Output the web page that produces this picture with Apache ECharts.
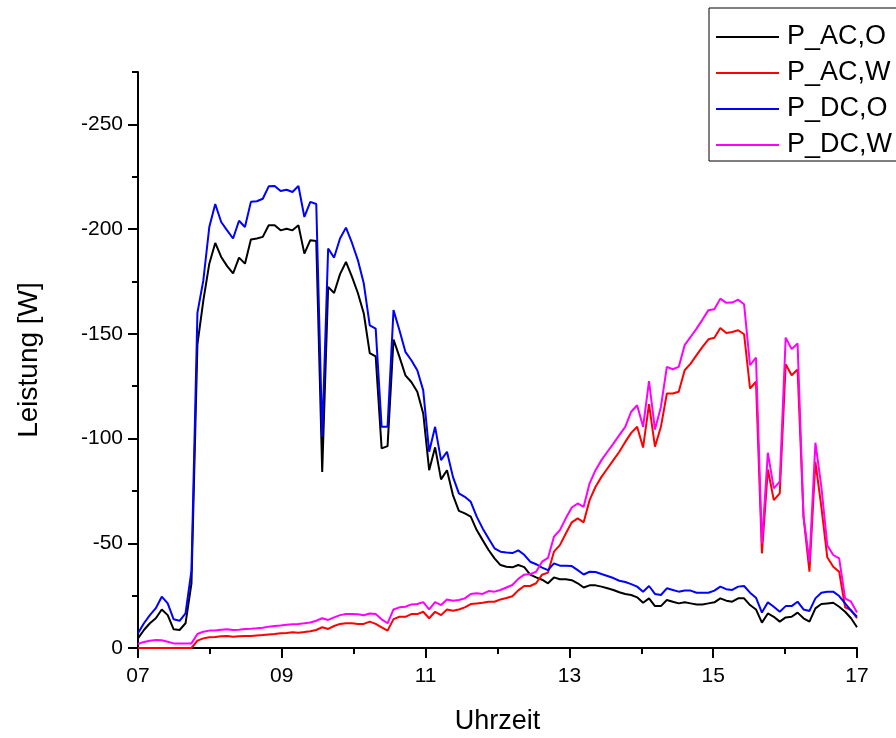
<!DOCTYPE html>
<html><head><meta charset="utf-8">
<script src="https://cdn.jsdelivr.net/npm/echarts@6/dist/echarts.min.js"></script>
<style>html,body{margin:0;padding:0;background:#fff}#c{width:896px;height:738px}</style>
</head><body><div id="c"></div>
<script>
const T_START = 7, T_END = 17;
const xTickLabels = ['07', '09', '11', '13', '15', '17'];
const yTickLabels = ['0', '-50', '-100', '-150', '-200', '-250'];
const seriesNames = ['P_AC,O', 'P_AC,W', 'P_DC,O', 'P_DC,W'];

const pAcO = [
  -4.6, -8.6, -11.8, -14.2, -18.4, -15.7, -8.9, -8.6, -11.8, -30.9,
  -145, -166, -183.5, -193.4, -186.7, -182.3, -178.8, -186.4, -183.5, -195,
  -195.5, -196.3, -201.8, -201.8, -199.4, -200.2, -199.4, -201.8, -188.3, -194.7,
  -194.3, -84, -172.4, -169.5, -178.5, -184.3, -177.3, -169.5, -159.7, -140.8,
  -139.2, -95.3, -96.4, -147.3, -139, -130.2, -127, -122.3, -112, -84.9,
  -95.8, -80.5, -84.9, -73, -65.5, -64.3, -62.7, -56.3, -51.5, -46.8,
  -42.8, -39.6, -38.8, -38.5, -39.6, -38.6, -35, -33.7, -32.6, -30.9,
  -33.7, -32.8, -32.8, -32.4, -30.9, -28.9, -29.9, -29.9, -29.3, -28.5,
  -27.7, -26.6, -25.8, -25.3, -24.2, -21.6, -23.7, -20, -20, -22.9,
  -22.1, -21.3, -21.8, -21.3, -20.8, -20.8, -21.3, -21.8, -23.7, -22.6,
  -22.1, -23.7, -23.7, -20.5, -18.4, -12.1, -16.5, -14.9, -12.6, -14.6,
  -14.9, -16.9, -14.2, -12.6, -18.9, -21, -21.3, -21.6, -19.7, -17.3,
  -14.2, -9.9
];
const pAcW = [
  0, 0, 0, 0, 0, 0, 0, 0, 0, 0,
  -3.5, -4.6, -5.1, -5.2, -5.6, -5.7, -5.4, -5.6, -5.7, -5.7,
  -6.0, -6.2, -6.5, -6.7, -7.0, -7.2, -7.5, -7.3, -7.6, -8.0,
  -8.6, -9.9, -9.1, -10.5, -11.5, -11.8, -11.8, -11.5, -11.5, -12.6,
  -11.5, -9.9, -8.3, -13.8, -14.9, -14.9, -16.2, -16.2, -17.3, -14.2,
  -17.3, -15.7, -18.4, -17.8, -18.4, -19.4, -21, -21.3, -21.6, -22.1,
  -22.1, -23.2, -23.9, -24.7, -27.5, -29.6, -29.6, -30.9, -35, -36,
  -46, -49.1, -54.7, -60, -61.9, -60, -70.6, -77, -81.7, -85.7,
  -89.7, -93.7, -98.4, -102.7, -105.6, -95.7, -116.4, -96.1, -105.6, -121.5,
  -121.5, -122.3, -132.6, -135.8, -139.8, -143.8, -147.4, -148.1, -152.8, -150.4,
  -150.9, -151.7, -149.8, -123.9, -127.1, -45.2, -85.2, -70.6, -73.8, -135.5,
  -130.2, -133, -62.7, -36.4, -88.9, -67.4, -43.3, -38.8, -36.4, -19.4,
  -18.1, -14.2
];
const pDcO = [
  -7, -11.8, -15.7, -19, -24.5, -21.3, -13.7, -13, -16.5, -37,
  -160, -175.6, -201, -212, -203.4, -199.4, -195.5, -204, -201, -213,
  -213.3, -214.5, -220.4, -220.6, -218.2, -218.8, -217.7, -220.6, -205.8, -213,
  -212, -101, -190.7, -186.4, -195.5, -200.7, -193.5, -185.2, -174, -154,
  -152.5, -105.6, -105.6, -161.3, -151.7, -141.4, -137.4, -132.6, -123, -93.7,
  -105.6, -89.7, -93.7, -81.7, -73.8, -72.2, -69.8, -62.7, -57.1, -52.3,
  -47.6, -46, -45.6, -45.3, -46.6, -44.5, -41.2, -40, -38.4, -37.2,
  -40.4, -39.3, -39.3, -39.1, -37.2, -35.1, -36.4, -36.3, -35.3, -34.4,
  -33.4, -32.1, -31.5, -30.5, -29.3, -26.9, -29.6, -25.8, -25.3, -28.5,
  -27.7, -26.9, -27.4, -27.4, -26.4, -26.4, -26.4, -27.4, -29.3, -28.1,
  -27.7, -29.3, -29.6, -26.4, -24, -16.9, -21.8, -19.7, -17.3, -20,
  -20, -22.1, -18.4, -17.7, -23.7, -26.4, -26.9, -26.9, -24.8, -21.3,
  -17.8, -14.9
];
const pDcW = [
  -1.9, -2.9, -3.5, -3.8, -3.7, -3.0, -2.2, -2.2, -2.2, -2.2,
  -6.7, -7.8, -8.3, -8.4, -8.7, -8.9, -8.6, -8.7, -9.1, -9.2,
  -9.4, -9.7, -10.2, -10.5, -10.7, -11.1, -11.3, -11.5, -11.8, -12.2,
  -13.0, -14.2, -13.4, -14.6, -15.7, -16.2, -16.2, -16.1, -15.6, -16.5,
  -16.2, -13.7, -11.8, -18.4, -19.4, -19.7, -20.8, -21, -21.9, -18.4,
  -21.9, -20.5, -23.2, -22.6, -22.9, -23.7, -25.8, -26.1, -25.8, -27.2,
  -26.9, -27.7, -28.9, -30.1, -33, -35, -35.3, -36.4, -41.2, -43,
  -53.1, -56.3, -61.9, -67.1, -69, -67.4, -78.6, -84.9, -89.7, -93.7,
  -97.6, -101.6, -105.6, -112.8, -115.9, -105.6, -127.4, -104.3, -115.1, -134.2,
  -133.1, -134.2, -144.6, -148.5, -152.5, -156.8, -161.3, -161.7, -166.8, -164.8,
  -164.9, -166.3, -164.1, -135, -138.7, -49.9, -93.2, -76.2, -79.4, -148.2,
  -142.7, -145.4, -62.7, -41.2, -98, -77, -49.1, -44.4, -42.8, -23.7,
  -22.1, -16.9
];

const FONT = '"Liberation Sans", Arial, sans-serif';
const n = pAcO.length;
const times = pAcO.map((_, i) => T_START + i * (T_END - T_START) / (n - 1));
const pair = arr => arr.map((v, i) => [times[i], v]);
const yMinorCats = [];
for (let v = 0; v >= -275; v -= 25) yMinorCats.push(String(v));

const colors = ['#000000', '#ff0000', '#0000ff', '#ff00ff'];
const dataSets = [pAcO, pAcW, pDcO, pDcW];

const chart = echarts.init(document.getElementById('c'), null, {renderer: 'canvas'});
const axisColor = '#000';
chart.setOption({
  animation: false,
  backgroundColor: '#fff',
  grid: {left: 138, right: 39, top: 72, bottom: 90, containLabel: false, outerBoundsMode: 'none'},
  xAxis: [
    {
      type: 'value', min: T_START, max: T_END, interval: 1, position: 'bottom',
      axisLine: {show: true, onZero: false, lineStyle: {color: axisColor, width: 2}},
      axisTick: {show: true, length: 6, lineStyle: {color: axisColor, width: 2}},
      axisLabel: {
        color: '#000', fontSize: 21, fontFamily: FONT, margin: 18,
        formatter: v => { const s = (v < 10 ? '0' : '') + v; return xTickLabels.includes(s) ? s : ''; }
      },
      splitLine: {show: false},
      name: 'Uhrzeit', nameLocation: 'middle', nameGap: 60,
      nameTextStyle: {fontSize: 27, fontFamily: FONT, color: '#000'}
    },
    {
      type: 'value', min: T_START, max: T_END, interval: 2, position: 'bottom',
      axisLine: {show: false}, axisTick: {show: true, length: 10, lineStyle: {color: axisColor, width: 2}},
      axisLabel: {show: false}, splitLine: {show: false}
    }
  ],
  yAxis: [
    {
      type: 'value', min: -275, max: 0, inverse: true, interval: 25, position: 'left',
      axisLine: {show: true, onZero: false, lineStyle: {color: axisColor, width: 2}},
      axisTick: {show: true, length: 6, lineStyle: {color: axisColor, width: 2}},
      axisLabel: {
        color: '#000', fontSize: 21, fontFamily: FONT, margin: 15,
        formatter: v => { const s = yTickLabels.find(t => Number(t) === v); return s || ''; }
      },
      splitLine: {show: false},
      name: 'Leistung [W]', nameLocation: 'middle', nameGap: 95, nameRotate: 90,
      nameTextStyle: {fontSize: 28, fontFamily: FONT, color: '#000'}
    },
    {
      type: 'category', data: yMinorCats, boundaryGap: false, position: 'left',
      axisLine: {show: false},
      axisTick: {show: true, interval: 1, length: 10, lineStyle: {color: axisColor, width: 2}},
      axisLabel: {show: false}, splitLine: {show: false}
    }
  ],
  legend: {
    orient: 'vertical', left: 709, top: 8, padding: [14, 45, 1, 7], itemGap: 6,
    itemWidth: 63, itemHeight: 2, icon: 'rect', selectedMode: false,
    borderColor: '#000', borderWidth: 1, backgroundColor: '#fff',
    textStyle: {fontSize: 27, fontFamily: FONT, color: '#000', lineHeight: 30, padding: [0, 0, 0, 3]},
    data: seriesNames
  },
  series: seriesNames.map((name, k) => ({
    type: 'line', name, xAxisIndex: 0, yAxisIndex: 0,
    data: pair(dataSets[k]), showSymbol: false, symbol: 'none',
    color: colors[k], lineStyle: {color: colors[k], width: 2},
    emphasis: {disabled: true}
  }))
});
</script></body></html>
